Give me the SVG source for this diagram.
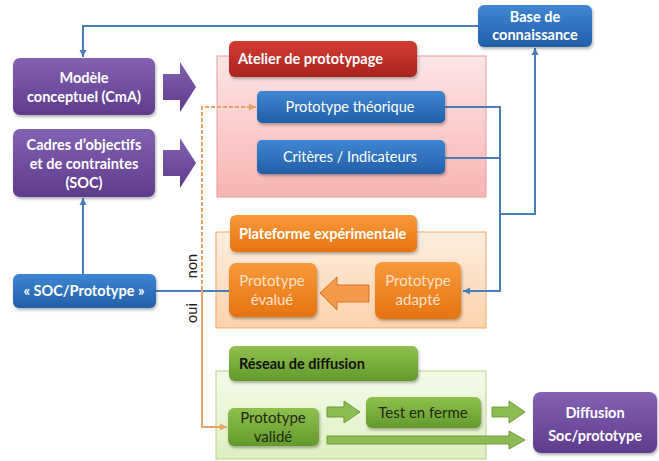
<svg xmlns="http://www.w3.org/2000/svg" width="659" height="461" viewBox="0 0 659 461">
<defs>
<linearGradient id="gPurple" x1="0" y1="0" x2="0" y2="1"><stop offset="0" stop-color="#8462b3"/><stop offset="1" stop-color="#5e3b8c"/></linearGradient>
<linearGradient id="gBlue" x1="0" y1="0" x2="0" y2="1"><stop offset="0" stop-color="#3f86d3"/><stop offset="1" stop-color="#225fa8"/></linearGradient>
<linearGradient id="gRed" x1="0" y1="0" x2="0" y2="1"><stop offset="0" stop-color="#d33c34"/><stop offset="1" stop-color="#a8231e"/></linearGradient>
<linearGradient id="gOrange" x1="0" y1="0" x2="0" y2="1"><stop offset="0" stop-color="#f99a3c"/><stop offset="1" stop-color="#e5730f"/></linearGradient>
<linearGradient id="gGreen" x1="0" y1="0" x2="0" y2="1"><stop offset="0" stop-color="#8fc04e"/><stop offset="1" stop-color="#639a2c"/></linearGradient>
<linearGradient id="gPink" x1="0" y1="0" x2="0" y2="1"><stop offset="0" stop-color="#fde6e6"/><stop offset="1" stop-color="#f8b4b4"/></linearGradient>
<linearGradient id="gPeach" x1="0" y1="0" x2="0" y2="1"><stop offset="0" stop-color="#fdeee0"/><stop offset="1" stop-color="#fbd3ad"/></linearGradient>
<linearGradient id="gLime" x1="0" y1="0" x2="0" y2="1"><stop offset="0" stop-color="#f4fbea"/><stop offset="1" stop-color="#def0c4"/></linearGradient>
<filter id="sh" x="-10%" y="-10%" width="130%" height="140%"><feDropShadow dx="1" dy="2" stdDeviation="1.5" flood-color="#000" flood-opacity="0.3"/></filter>
<marker id="aBlue" markerWidth="8" markerHeight="8" refX="7" refY="4" orient="auto" markerUnits="userSpaceOnUse"><path d="M0,0.5 L7,4 L0,7.5 Z" fill="#4a7ebb"/></marker>
<marker id="aOr" markerWidth="8" markerHeight="8" refX="7" refY="4" orient="auto" markerUnits="userSpaceOnUse"><path d="M0,0.5 L7,4 L0,7.5 Z" fill="#e8a26a"/></marker>
</defs>
<style>
text{font-family:Lato,"Liberation Sans",sans-serif;font-size:14.5px;text-anchor:middle}
.b{font-weight:bold}
.w{fill:#fff}
.lo{fill:#fde2c8;font-size:15px}
.dk{fill:#1e2a10;font-size:15px}
.hl{text-anchor:start}
.conn{fill:none;stroke:#4a7ebb;stroke-width:2}
.orl{fill:none;stroke:#e8a26a;stroke-width:2}
</style>

<!-- container bodies -->
<g id="atelier">
<rect x="217" y="56" width="269" height="141" fill="url(#gPink)" stroke="#e89a9a" stroke-width="1"/>
<rect x="229" y="41" width="188" height="36" rx="6" fill="url(#gRed)" filter="url(#sh)"/>
<text x="238" y="64" class="b w hl">Atelier de prototypage</text>
</g>
<g id="plateforme">
<rect x="216" y="232" width="270" height="96" fill="url(#gPeach)" stroke="#f0a76a" stroke-width="1"/>
<rect x="230" y="215" width="187" height="37" rx="6" fill="url(#gOrange)" filter="url(#sh)"/>
<text x="239" y="239" class="b w hl">Plateforme expérimentale</text>
</g>
<g id="reseau">
<rect x="216" y="371" width="270" height="88" fill="url(#gLime)" stroke="#b5d28a" stroke-width="1"/>
<rect x="229" y="346" width="189" height="35" rx="6" fill="url(#gGreen)" filter="url(#sh)"/>
<text x="239" y="369" class="b hl" fill="#111">Réseau de diffusion</text>
</g>

<!-- connectors -->
<g id="connectors">
<path class="conn" d="M478,26 H83 V57" marker-end="url(#aBlue)"/>
<path class="conn" d="M83,274 V198" marker-end="url(#aBlue)"/>
<path class="conn" d="M156,291 H229"/>
<path class="conn" d="M445,107 H500 V291 H463" marker-end="url(#aBlue)"/>
<path class="conn" d="M445,158 H500"/>
<path class="conn" d="M500,214 H535 V48" marker-end="url(#aBlue)"/>
<path class="orl" d="M202,290 V107 H256" stroke-dasharray="4,2" marker-end="url(#aOr)"/>
<path class="orl" d="M202,290 V427 H227" marker-end="url(#aOr)"/>
<text x="0" y="0" font-size="10.5" transform="translate(197,266) rotate(-90)" fill="#222">non</text>
<text x="0" y="0" font-size="10.5" transform="translate(197,313) rotate(-90)" fill="#222">oui</text>
<!-- block arrows -->
<path d="M163,74 H180 V62 L196,87 L180,112 V100 H163 Z" fill="url(#gPurple)"/>
<path d="M163,150 H180 V138 L196,163 L180,188 V176 H163 Z" fill="url(#gPurple)"/>
<path d="M369,285 H337 V277 L320,293 L337,310 V302 H369 Z" fill="#f5994a" stroke="#d9731e" stroke-width="1"/>
<path d="M327,407 H344 V401 L360,412 L344,423 V417 H327 Z" fill="#8dbc55" stroke="#6e9b3a" stroke-width="1"/>
<path d="M492,407 H509 V401 L525,412 L509,423 V417 H492 Z" fill="#8dbc55" stroke="#6e9b3a" stroke-width="1"/>
<path d="M327,436 H509 V431 L525,440 L509,449 V444 H327 Z" fill="#8dbc55" stroke="#6e9b3a" stroke-width="1"/>
</g>

<g id="modele">
<rect x="13" y="58" width="142" height="57" rx="7" fill="url(#gPurple)" filter="url(#sh)"/>
<text x="84" y="83" class="b w">Modèle</text>
<text x="84" y="102" class="b w">conceptuel (CmA)</text>
</g>
<g id="cadres">
<rect x="13" y="129" width="142" height="68" rx="7" fill="url(#gPurple)" filter="url(#sh)"/>
<text x="84" y="150" class="b w">Cadres d’objectifs</text>
<text x="84" y="169" class="b w">et de contraintes</text>
<text x="84" y="188" class="b w">(SOC)</text>
</g>
<g id="soc">
<rect x="13" y="274" width="143" height="34" rx="6" fill="url(#gBlue)" filter="url(#sh)"/>
<text x="84" y="296" class="b w">« SOC/Prototype »</text>
</g>
<g id="base">
<rect x="478" y="5" width="114" height="42" rx="6" fill="url(#gBlue)" filter="url(#sh)"/>
<text x="535" y="22" class="b w">Base de</text>
<text x="535" y="40" class="b w">connaissance</text>
</g>
<g id="theorique">
<rect x="257" y="91" width="188" height="32" rx="5" fill="url(#gBlue)" filter="url(#sh)"/>
<text x="350" y="112" class="w">Prototype  théorique</text>
</g>
<g id="criteres">
<rect x="257" y="140" width="188" height="34" rx="5" fill="url(#gBlue)" filter="url(#sh)"/>
<text x="350" y="162" class="w">Critères / Indicateurs</text>
</g>
<g id="evalue">
<rect x="229" y="263" width="88" height="54" rx="7" fill="url(#gOrange)" filter="url(#sh)"/>
<text x="272" y="286" class="lo">Prototype</text>
<text x="272" y="305" class="lo">évalué</text>
</g>
<g id="adapte">
<rect x="375" y="262" width="86" height="57" rx="7" fill="url(#gOrange)" filter="url(#sh)"/>
<text x="418" y="286" class="lo">Prototype</text>
<text x="418" y="305" class="lo">adapté</text>
</g>
<g id="valide">
<rect x="228" y="408" width="91" height="38" rx="6" fill="url(#gGreen)" filter="url(#sh)"/>
<text x="273" y="423" class="dk">Prototype</text>
<text x="273" y="442" class="dk">validé</text>
</g>
<g id="test">
<rect x="366" y="397" width="115" height="31" rx="6" fill="url(#gGreen)" filter="url(#sh)"/>
<text x="423" y="418" class="dk">Test en ferme</text>
</g>
<g id="diffusion">
<rect x="533" y="392" width="124" height="61" rx="8" fill="url(#gPurple)" filter="url(#sh)"/>
<text x="595" y="418" class="b w" font-size="17">Diffusion</text>
<text x="595" y="441" class="b w" font-size="17">Soc/prototype</text>
</g>
</svg>
